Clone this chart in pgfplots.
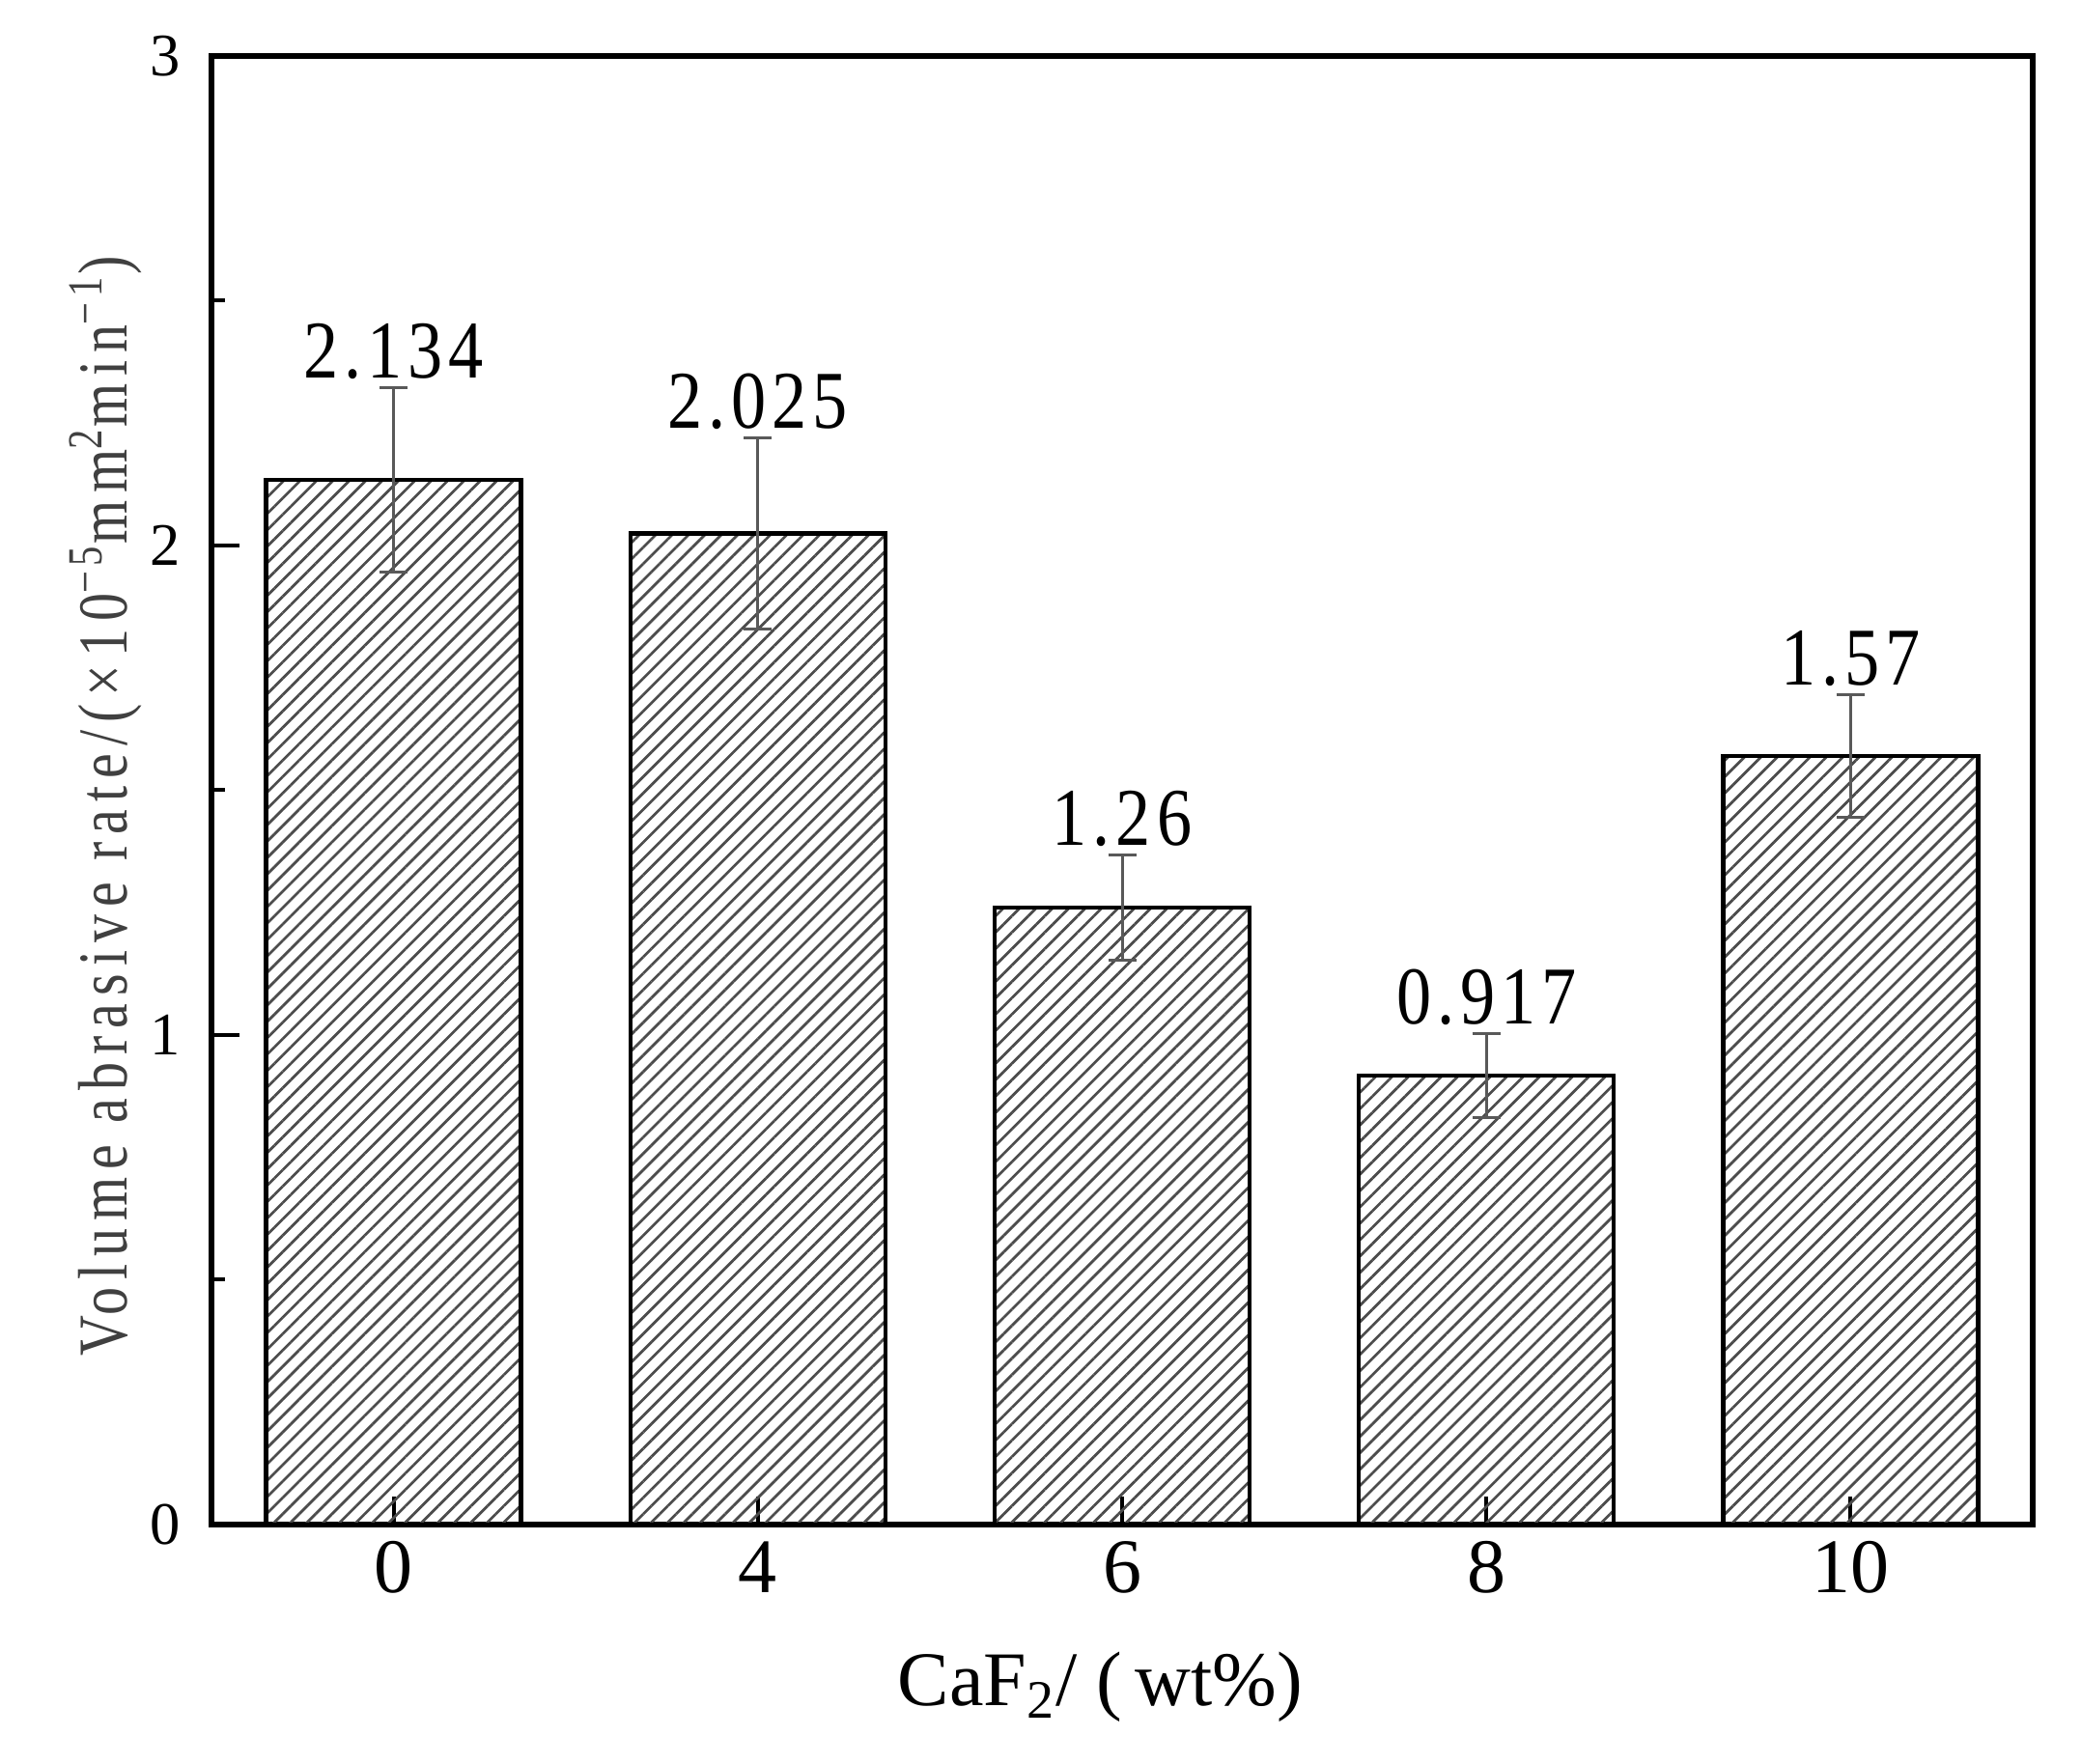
\documentclass[border=0pt]{standalone}
\usepackage{fontspec}
\setmainfont{Liberation Serif}
\newfontfamily\condf[FakeStretch=0.8,LetterSpace=11]{Liberation Serif}
\newfontfamily\valf[FakeStretch=0.85,LetterSpace=7]{Liberation Serif}
\usepackage{pgfplots}
\pgfplotsset{compat=1.18}
\usepackage{pgfplotstable}
\usetikzlibrary{patterns.meta}

\pgfplotstableread{
x y e lab
0 2.134 0.188 2.134
1 2.025 0.195 2.025
2 1.26 0.107 1.26
3 0.917 0.086 0.917
4 1.57 0.125 1.57
}\datatable

\begin{document}
\begin{tikzpicture}
\begin{axis}[
  scale only axis, width=377.2pt, height=304.2pt,
  xmin=-0.5, xmax=4.5, ymin=0, ymax=3,
  xtick={0,1,2,3,4}, xticklabels={0,4,6,8,10},
  ytick={0,1,2,3}, minor y tick num=1,
  xtick pos=bottom, ytick pos=left,
  tick align=inside,
  major tick length=5.8pt, minor tick length=2.8pt,
  tick style={black, line width=0.8pt},
  axis line style={line width=1.1pt},
  /pgf/number format/assume math mode=true,
  x tick label style={font=\fontsize{16}{19}\selectfont},
  y tick label style={font=\fontsize{12.5}{15}\selectfont, xshift=-3pt},
  ylabel={Volume abrasive rate/(×10\textsuperscript{−5}mm\textsuperscript{2}min\textsuperscript{−1})},
  ylabel style={at={(axis description cs:-0.058,0.489)}, anchor=center, font={\condf\fontsize{14.5}{17}\selectfont}, color=black!75},
  xlabel={CaF\textsubscript{2}/\ (\,wt\%)},
  xlabel style={at={(axis description cs:0.488,0)}, anchor=base, yshift=-37.6pt, font=\fontsize{16}{19}\selectfont},
]
\addplot[ybar, bar width=0.7, draw=black, line width=0.9pt,
  pattern={Lines[angle=45,distance=2.4pt,line width=0.55pt]}, pattern color=black!70,
  error bars/.cd, y dir=both, y explicit,
  error bar style={line width=0.6pt, black!65},
  error mark options={rotate=90, mark size=2.9pt, line width=0.6pt, black!65}]
  table[x=x, y=y, y error=e] {\datatable};
\addplot[draw=none, mark=none, point meta=explicit symbolic, nodes near coords,
  every node near coord/.style={anchor=base, yshift=2pt, font={\valf\fontsize{17}{20}\selectfont}, black}]
  table[x=x, y expr=\thisrow{y}+\thisrow{e}, meta=lab] {\datatable};
\coordinate (sw) at (rel axis cs:0,0);
\coordinate (ne) at (rel axis cs:1,1);
\end{axis}
\pgfresetboundingbox
\path[use as bounding box] ([xshift=-43.8pt, yshift=-49.6pt]sw) rectangle ([xshift=10pt, yshift=11.6pt]ne);
\end{tikzpicture}
\end{document}
